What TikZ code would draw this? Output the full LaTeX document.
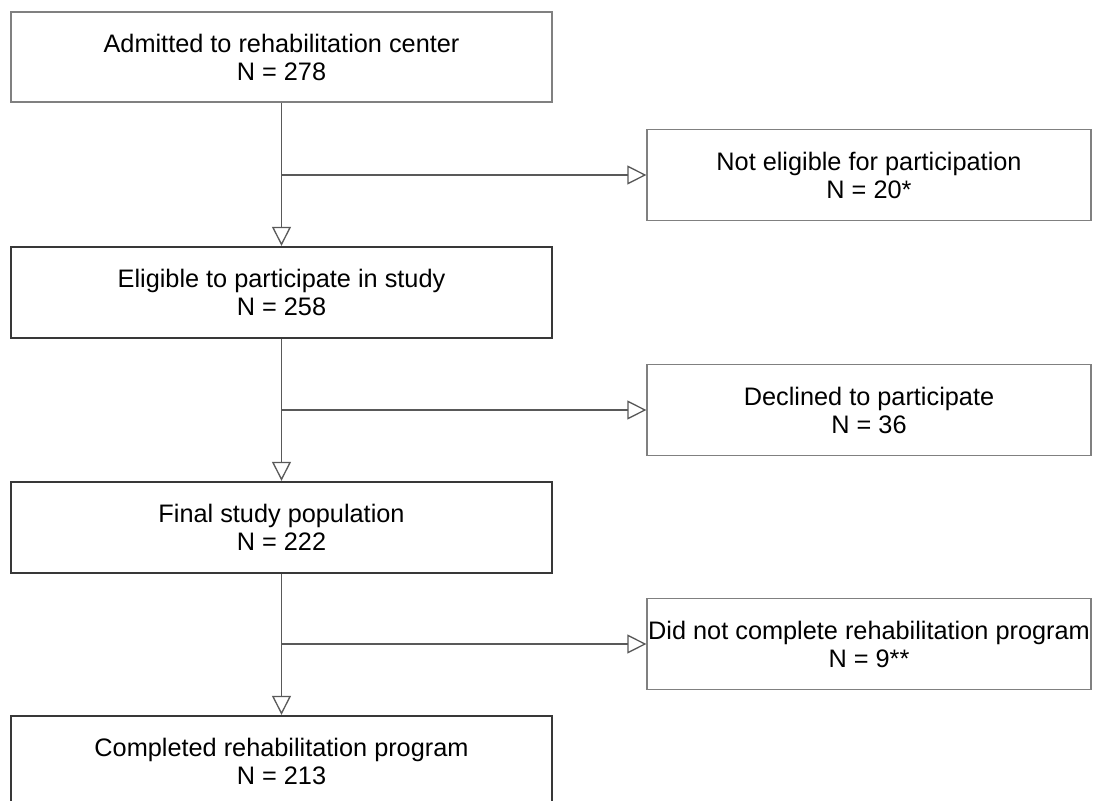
\documentclass[tikz,border=0pt]{standalone}
\usepackage{fontspec}
\setmainfont{Liberation Sans}
\usetikzlibrary{arrows.meta}
\begin{document}
\begin{tikzpicture}[x=1pt,y=-1pt,
  txt/.style={align=center,font=\fontsize{25.3}{28}\selectfont,text=black,inner sep=0pt},
  leftbox/.style={txt,draw=black!78,line width=2.4pt,minimum width=541pt,minimum height=91pt},
  lightbox/.style={txt,draw=black!50,line width=1.3pt,minimum width=541pt,minimum height=90pt},
  rightbox/.style={txt,draw=black!50,line width=1.3pt,minimum width=444pt,minimum height=91pt},
  arr/.style={draw=black!65,line width=1.3pt,-{Triangle[open,length=19pt,width=19pt]}}]
\useasboundingbox (0,0) rectangle (1094,800);
\clip (0,0) rectangle (1094,800);
\fill[white] (0,0) rectangle (1094,800);

\node[lightbox] (l1) at (281.5,57) {Admitted to rehabilitation center\\N = 278};
\node[leftbox] (l2) at (281.5,292.5) {Eligible to participate in study\\N = 258};
\node[leftbox] (l3) at (281.5,527.5) {Final study population\\N = 222};
\node[leftbox] (l4) at (281.5,761.5) {Completed rehabilitation program\\N = 213};

\node[rightbox] (r1) at (869,175) {Not eligible for participation\\N = 20*};
\node[rightbox] (r2) at (869,410) {Declined to participate\\N = 36};
\node[rightbox] (r3) at (869,644) {Did not complete rehabilitation program\\N = 9**};

\draw[arr] (l1.south) -- (l2.north);
\draw[arr] (l2.south) -- (l3.north);
\draw[arr] (l3.south) -- (l4.north);

\draw[arr] (l1.south |- r1.west) -- (r1.west);
\draw[arr] (l2.south |- r2.west) -- (r2.west);
\draw[arr] (l3.south |- r3.west) -- (r3.west);
\end{tikzpicture}
\end{document}
